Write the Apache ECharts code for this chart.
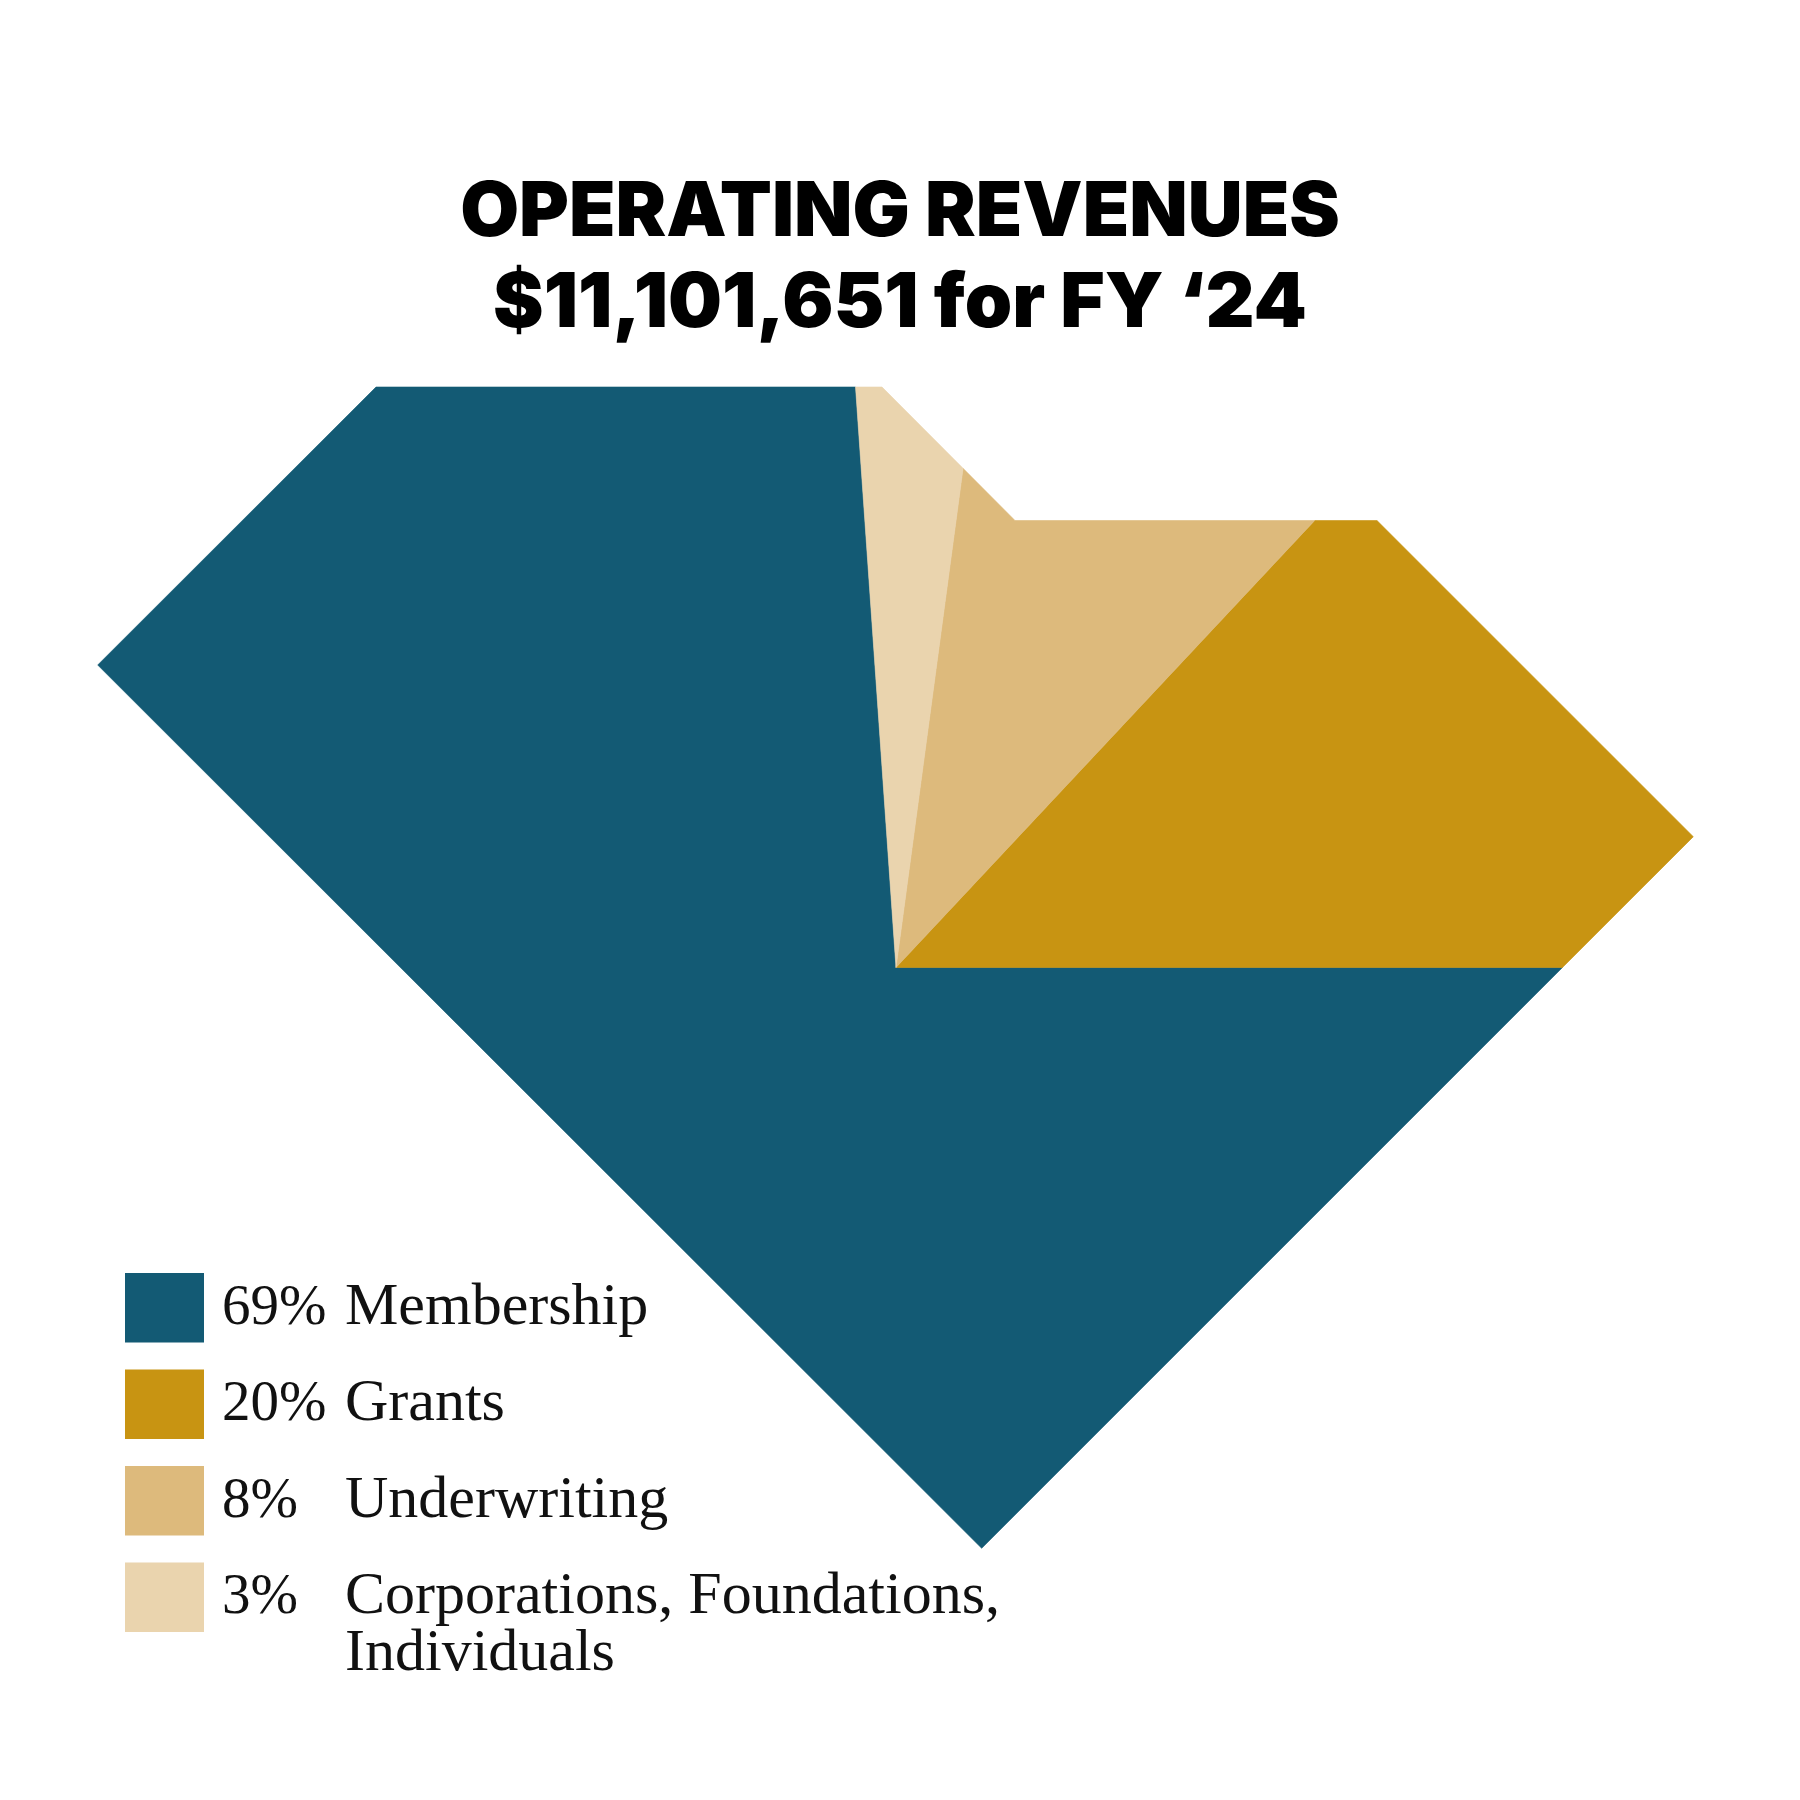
<!DOCTYPE html>
<html><head><meta charset="utf-8">
<script src="https://cdn.jsdelivr.net/npm/echarts@6/dist/echarts.min.js"></script>
<style>html,body{margin:0;padding:0;background:#fff}#c{width:1800px;height:1800px}</style>
</head><body><div id="c"></div>
<script>
// ---- data ----
const categories = ['Membership', 'Grants', 'Underwriting', 'Corporations, Foundations,\nIndividuals'];
const values = [69, 20, 8, 3];
const percentLabels = ['69%', '20%', '8%', '3%'];
const colors = ['#135A74', '#C89412', '#DDBA7C', '#EAD4AE'];
const titleLines = ['OPERATING REVENUES', '$11,101,651 for FY \u201824'];
// base shape (state outline) in chart coordinate units, and the hub the slices radiate from
const outline = [[376, 387], [882, 387], [1015, 520.5], [1377, 520.5], [1693.3, 836.7], [981.7, 1548.3], [97.7, 665]];
const hub = [896, 967.5];
// sweep order: counter-clockwise from the east ray, first item (Membership) closes the sweep
const sweepOrder = values.map((v, i) => (i + 1) % values.length);

// ---- area-proportional partition of the outline around the hub ----
function tri(a, b, c) { return Math.abs((b[0] - a[0]) * (c[1] - a[1]) - (c[0] - a[0]) * (b[1] - a[1])) / 2; }
function eastHit(poly, h) {
  for (let i = 0; i < poly.length; i++) {
    const a = poly[i], b = poly[(i + 1) % poly.length];
    if ((a[1] - h[1]) * (b[1] - h[1]) <= 0 && a[1] !== b[1]) {
      const t = (h[1] - a[1]) / (b[1] - a[1]);
      const x = a[0] + t * (b[0] - a[0]);
      if (x > h[0]) return { i: i, p: [x, h[1]] };
    }
  }
}
function partition(poly, h, vals, order) {
  const n = poly.length, hit = eastHit(poly, h);
  const ring = [hit.p];
  for (let k = 0; k < n; k++) ring.push(poly[(hit.i - k + n) % n]);
  ring.push(hit.p);
  let total = 0;
  for (let k = 0; k < ring.length - 1; k++) total += tri(h, ring[k], ring[k + 1]);
  const sum = vals.reduce((a, b) => a + b, 0);
  const polys = new Array(vals.length);
  let seg = 0, cur = ring[0];
  order.forEach(function (idx, oi) {
    let need = total * vals[idx] / sum;
    const pts = [h.slice(), cur];
    if (oi === order.length - 1) { // last slice takes the remainder
      for (let k = seg + 1; k < ring.length; k++) pts.push(ring[k]);
      polys[idx] = pts; return;
    }
    while (seg < ring.length - 1) {
      const nxt = ring[seg + 1], a = tri(h, cur, nxt);
      if (a >= need) {
        const t = a > 0 ? need / a : 0;
        cur = [cur[0] + (nxt[0] - cur[0]) * t, cur[1] + (nxt[1] - cur[1]) * t];
        pts.push(cur); break;
      }
      need -= a; pts.push(nxt); cur = nxt; seg++;
    }
    polys[idx] = pts;
  });
  return polys;
}
const slicePolys = partition(outline, hub, values, sweepOrder);

// ---- legend graphics built from the arrays ----
const legendLeft = 125, legendTop = 1273, legendPitch = 96.5, boxW = 79, boxH = 69.5, lh = 57.4;
const legendFont = '60px "Liberation Serif", serif';
const pctFont = '57px "Liberation Serif", serif';
const legendEls = [];
categories.forEach(function (name, i) {
  const y0 = legendTop + i * legendPitch, cy = y0 + boxH / 2;
  legendEls.push({ type: 'rect', shape: { x: legendLeft, y: y0, width: boxW, height: boxH }, style: { fill: colors[i] } });
  legendEls.push({ type: 'text', style: { text: percentLabels[i], x: 222, y: cy - lh / 2 + 1, font: pctFont, fill: '#111', verticalAlign: 'top', lineHeight: lh } });
  legendEls.push({ type: 'text', style: { text: name, x: 345, y: cy - lh / 2, font: legendFont, fill: '#111', verticalAlign: 'top', lineHeight: lh } });
});

const chart = echarts.init(document.getElementById('c'));
chart.setOption({
  animation: false,
  backgroundColor: '#ffffff',
  title: {
    text: titleLines.join('\n'), left: 'center', top: 163,
    textStyle: { fontFamily: 'Inter', fontWeight: 900, fontSize: 76, lineHeight: 91, color: '#000' }
  },
  grid: { left: 0, right: 0, top: 0, bottom: 0 },
  xAxis: { type: 'value', min: 0, max: 1800, show: false },
  yAxis: { type: 'value', min: 0, max: 1800, inverse: true, show: false },
  series: [{
    type: 'custom', coordinateSystem: 'cartesian2d', silent: true,
    data: values.map((v, i) => ({ name: categories[i], value: [i, v] })),
    renderItem: function (params, api) {
      const i = params.dataIndex;
      const pts = slicePolys[i].map(p => api.coord(p));
      return { type: 'polygon', shape: { points: pts }, style: { fill: colors[i], stroke: colors[i], lineWidth: 0.6 } };
    }
  }],
  graphic: { elements: legendEls }
});
</script></body></html>
